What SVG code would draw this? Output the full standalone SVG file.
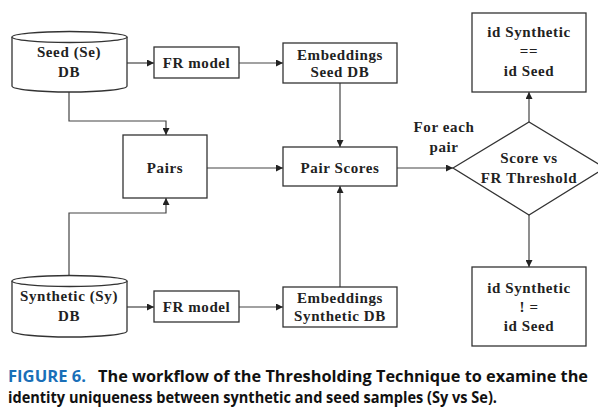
<svg xmlns="http://www.w3.org/2000/svg" width="598" height="417" viewBox="0 0 598 417">
<style>
.s{fill:#fff;stroke:#333;stroke-width:1.3}
.t{font-family:"Liberation Serif","Times New Roman",serif;font-weight:bold;font-size:15px;letter-spacing:0.6px;fill:#222;text-anchor:middle}
.c{fill:none;stroke:#444;stroke-width:1.2}
.cap{font-family:"Open Sans","Liberation Sans",sans-serif;font-weight:bold;font-size:16px;fill:#111}
</style>
<defs>
<marker id="a" viewBox="0 0 10 10" refX="10" refY="5" markerWidth="7" markerHeight="7" markerUnits="userSpaceOnUse" orient="auto">
<path d="M0,0 L10,5 L0,10 z" fill="#222"/>
</marker>
</defs>
<rect width="598" height="417" fill="#fff"/>
<g id="connectors" class="c" marker-end="url(#a)">
<line x1="127" y1="63" x2="154" y2="63"/>
<line x1="239" y1="63" x2="283" y2="63"/>
<polyline points="69,92 69,121 166,121 166,135"/>
<line x1="207" y1="168" x2="283" y2="168"/>
<line x1="340" y1="83" x2="340" y2="147"/>
<polyline points="69,276 69,213 166,213 166,198"/>
<line x1="127" y1="307" x2="154" y2="307"/>
<line x1="239" y1="307" x2="283" y2="307"/>
<line x1="340" y1="287" x2="340" y2="186"/>
<line x1="397" y1="168" x2="453" y2="168"/>
<line x1="529" y1="122" x2="529" y2="92"/>
<line x1="529" y1="215" x2="529" y2="267"/>
</g>
<g id="seed-db">
<path class="s" d="M12,37 L12,86 A57.5,6 0 0 0 127,86 L127,37"/>
<ellipse class="s" cx="69.5" cy="37" rx="57.5" ry="5.5"/>
<text class="t" x="69" y="57">Seed (Se)</text>
<text class="t" x="69" y="77">DB</text>
</g>
<g id="fr-model-1">
<rect class="s" x="154" y="47" width="85" height="31"/>
<text class="t" x="196.5" y="68">FR model</text>
</g>
<g id="emb-seed">
<rect class="s" x="283" y="43" width="114" height="40"/>
<text class="t" x="340" y="60">Embeddings</text>
<text class="t" x="340" y="77">Seed DB</text>
</g>
<g id="pairs">
<rect class="s" x="123" y="135" width="84" height="63"/>
<text class="t" x="165" y="173">Pairs</text>
</g>
<g id="pair-scores">
<rect class="s" x="283" y="147" width="114" height="39"/>
<text class="t" x="340" y="173">Pair Scores</text>
</g>
<g id="for-each-label">
<text class="t" x="444" y="132">For each</text>
<text class="t" x="444" y="152">pair</text>
</g>
<g id="threshold">
<polygon class="s" points="453,168 529,122 605,168 529,215"/>
<text class="t" x="529" y="163">Score vs</text>
<text class="t" x="529" y="183">FR Threshold</text>
</g>
<g id="same-id">
<rect class="s" x="472" y="13" width="114" height="79"/>
<text class="t" x="529" y="37">id Synthetic</text>
<text class="t" x="529" y="56">==</text>
<text class="t" x="529" y="76">id Seed</text>
</g>
<g id="diff-id">
<rect class="s" x="472" y="267" width="114" height="79"/>
<text class="t" x="529" y="293">id Synthetic</text>
<text class="t" x="529" y="312">! =</text>
<text class="t" x="529" y="331">id Seed</text>
</g>
<g id="synthetic-db">
<path class="s" d="M12,281 L12,331 A57.5,6 0 0 0 127,331 L127,281"/>
<ellipse class="s" cx="69.5" cy="281" rx="57.5" ry="5.5"/>
<text class="t" x="69" y="301">Synthetic (Sy)</text>
<text class="t" x="69" y="321">DB</text>
</g>
<g id="fr-model-2">
<rect class="s" x="154" y="291" width="85" height="31"/>
<text class="t" x="196.5" y="312">FR model</text>
</g>
<g id="emb-synth">
<rect class="s" x="283" y="287" width="114" height="40"/>
<text class="t" x="340" y="303">Embeddings</text>
<text class="t" x="340" y="321">Synthetic DB</text>
</g>
<g id="caption">
<text class="cap" x="8" y="382" style="fill:#1a6fb8" textLength="78" lengthAdjust="spacingAndGlyphs">FIGURE 6.</text>
<text class="cap" x="98" y="382" textLength="490" lengthAdjust="spacingAndGlyphs">The workflow of the Thresholding Technique to examine the</text>
<text class="cap" x="8" y="403" textLength="489" lengthAdjust="spacingAndGlyphs">identity uniqueness between synthetic and seed samples (Sy vs Se).</text>
</g>
</svg>
